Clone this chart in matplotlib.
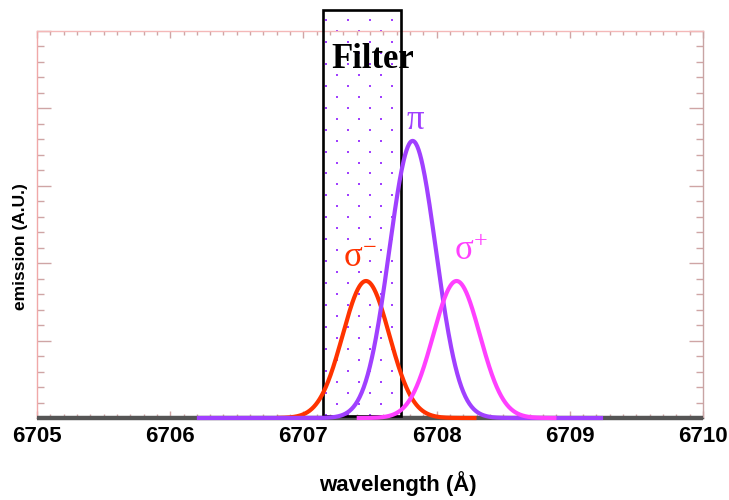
import matplotlib

matplotlib.use("Agg")

import matplotlib.pyplot as plt
import numpy as np
from matplotlib.ticker import MultipleLocator

# Zeeman components (centre in Å, peak height, gaussian width)
components = ["sigma-", "pi", "sigma+"]
centers = [6707.47, 6707.82, 6708.15]
heights = [1.77, 3.58, 1.77]
widths = [0.175, 0.175, 0.175]
spans = [(6706.8, 6708.3), (6706.2, 6709.25), (6707.4, 6708.9)]
colors = ["#ff3300", "#a040ff", "#ff40ff"]
labels = [r"$\mathrm{\sigma^{-}}$", "π", r"$\mathrm{\sigma^{+}}$"]
label_pos = [(6707.42, 2.07), (6707.84, 3.85), (6708.26, 2.15)]

filter_lo, filter_hi = 6707.15, 6707.73
filter_top = 5.27
x_ticks = [6705, 6706, 6707, 6708, 6709, 6710]

plt.rcParams["mathtext.fontset"] = "custom"
plt.rcParams["mathtext.rm"] = "Liberation Serif"
plt.rcParams["mathtext.it"] = "Liberation Serif:italic"

fig = plt.figure(figsize=(7.29, 5.0), dpi=100)
ax = fig.add_axes([0.0508, 0.164, 0.9135, 0.774])
ax.set_xlim(6705, 6710)
ax.set_ylim(0, 5)

# filter band: dotted fill + black outline, sticks out above the frame
dx, dy = 0.165, 0.142
rows = np.arange(0.035, filter_top, dy)
for i, yy in enumerate(rows[::-1]):
    start = filter_lo + 0.02 if i % 2 == 0 else filter_lo + 0.1
    xs = np.arange(start, filter_hi - 0.02, dx)
    ax.scatter(xs, np.full_like(xs, yy), s=4.2, marker="s", color="#a040ff",
               linewidths=0, clip_on=False, zorder=2)
ax.add_patch(plt.Rectangle((filter_lo, 0.03), filter_hi - filter_lo, filter_top - 0.03,
                           fill=False, edgecolor="black", linewidth=1.9,
                           clip_on=False, zorder=4))
ax.text((filter_lo + filter_hi) / 2 + 0.08, 4.63, "Filter", ha="center", va="center",
        fontsize=25, fontweight="bold", family="Liberation Serif", zorder=6)

# baseline
ax.plot([6705, 6710], [0, 0], color="#555555", linewidth=3.2, solid_capstyle="butt",
        clip_on=False, zorder=3)

for k in range(len(components)):
    x = np.linspace(spans[k][0], spans[k][1], 600)
    y = heights[k] * np.exp(-0.5 * ((x - centers[k]) / widths[k]) ** 2)
    ax.plot(x, y, color=colors[k], linewidth=3.0, clip_on=False, zorder=5,
            solid_capstyle="butt")
    ax.text(label_pos[k][0], label_pos[k][1], labels[k], color=colors[k],
            ha="center", va="center", fontsize=25, family="Liberation Serif", zorder=6)

ax.set_xticks(x_ticks)
ax.set_xticklabels([str(t) for t in x_ticks], fontsize=16, fontweight="bold",
                   family="Liberation Sans")
ax.xaxis.set_minor_locator(MultipleLocator(0.1))
ax.yaxis.set_major_locator(MultipleLocator(1))
ax.yaxis.set_minor_locator(MultipleLocator(0.2))
ax.set_yticklabels([])
ax.tick_params(axis="both", which="both", direction="in", top=True, right=True,
               color="#cfa5a5", width=1.0)
ax.tick_params(axis="y", which="major", length=10)
ax.tick_params(axis="y", which="minor", length=5)
ax.tick_params(axis="x", which="major", length=5, pad=6)
ax.tick_params(axis="x", which="minor", length=3)

for side, col in [("left", "#f0a8a8"), ("top", "#f4b8b8"), ("right", "#c8a4a4"),
                  ("bottom", "#555555")]:
    ax.spines[side].set_color(col)
    ax.spines[side].set_linewidth(1.0)

ax.set_xlabel("wavelength (Å)", fontsize=16, fontweight="bold", family="Liberation Sans",
              va="center")
ax.xaxis.set_label_coords(0.542, -0.168)
ax.set_ylabel("emission (A.U.)", fontsize=12.5, fontweight="bold", family="Liberation Sans")
ax.yaxis.set_label_coords(-0.014, 0.442)

fig.savefig("out.png", dpi=100)
